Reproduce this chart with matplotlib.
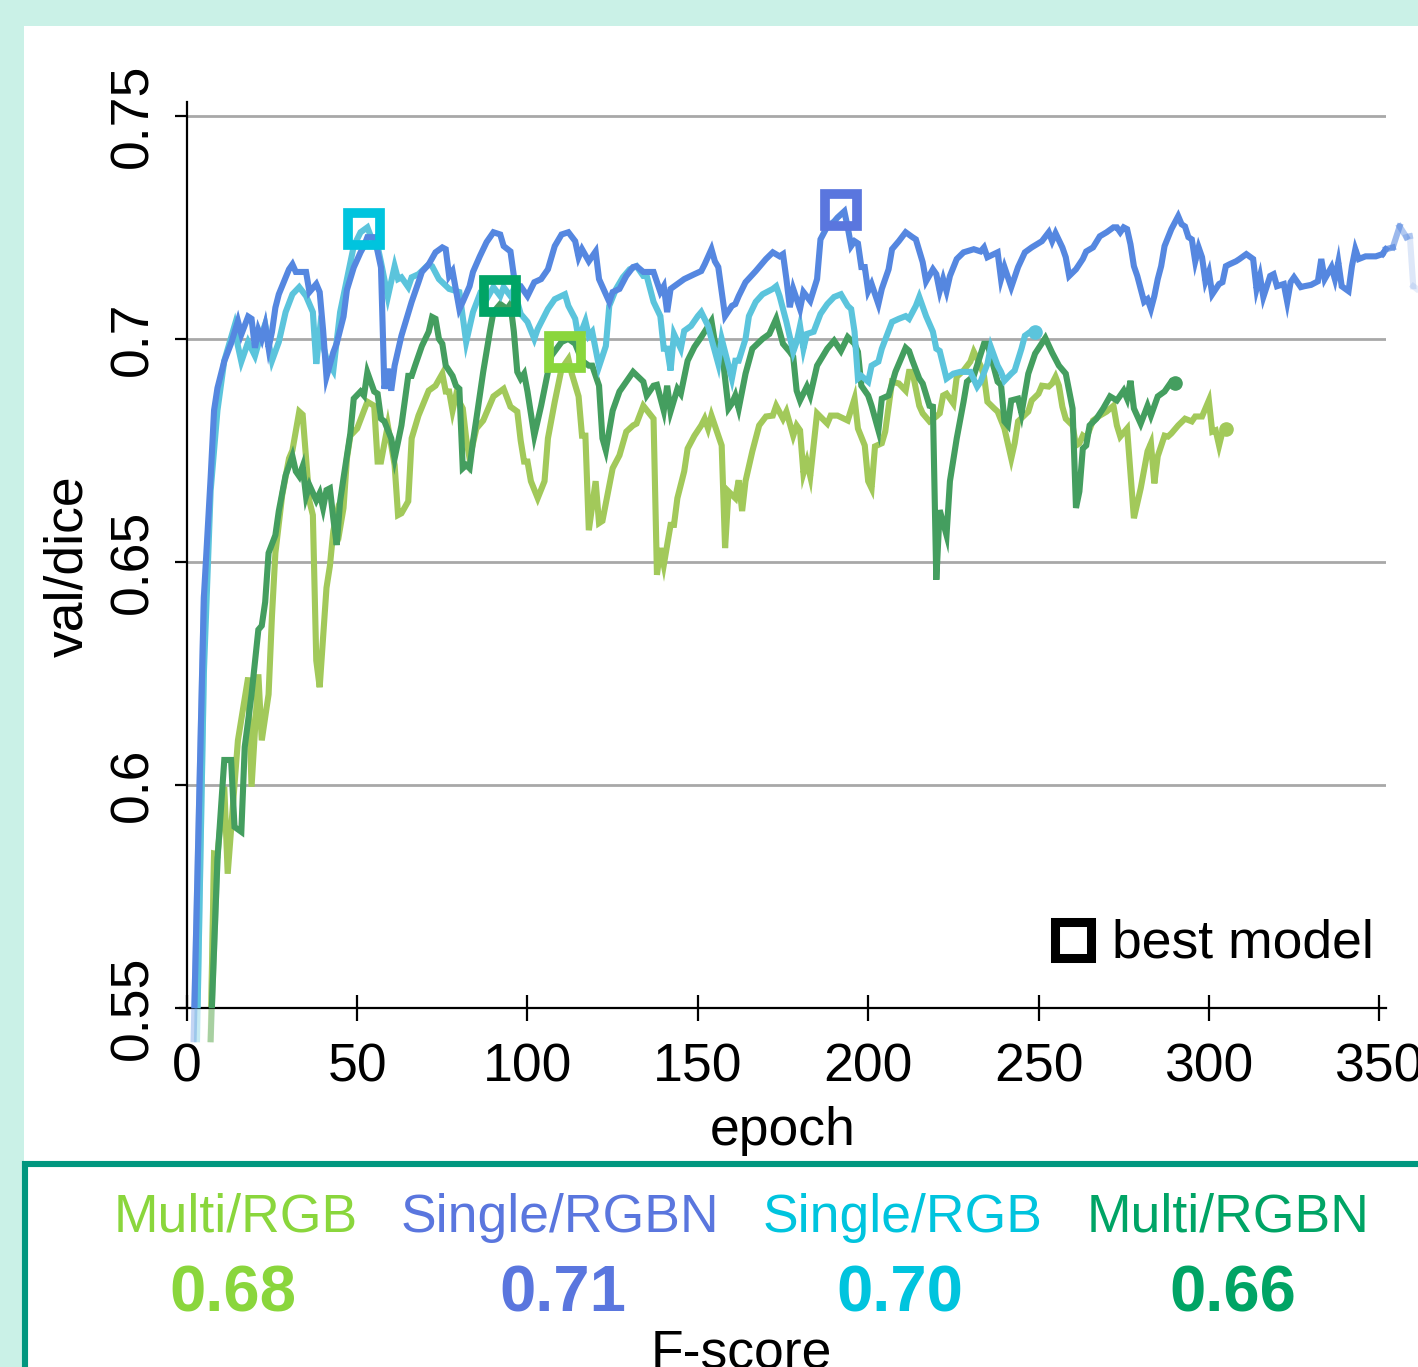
import matplotlib.pyplot as plt
from matplotlib.lines import Line2D
from matplotlib.patches import Rectangle

plt.rcParams['font.family'] = ['Liberation Sans', 'DejaVu Sans']

# ---- data: (epoch, val/dice) ----
single_rgbn = [(2,0.543),(5,0.642),(7,0.669),(8,0.684),(9,0.689),(11,0.695),(13,0.699),(15,0.704),(16,0.701),(18,0.705),(19,0.7045),(20,0.698),(21,0.702),(22,0.700),(23,0.703),(24,0.698),(25,0.7016),(26,0.707),(27,0.710),(30,0.7156),(31,0.7167),(32,0.715),(35,0.715),(36,0.7105),(38,0.7123),(39,0.7105),(40,0.702),(41,0.6915),(43,0.697),(44,0.699),(46,0.705),(47,0.711),(49,0.716),(51,0.7194),(52,0.7208),(53,0.7228),(55,0.7228),(56,0.7196),(57,0.716),(58,0.6888),(59,0.6933),(60,0.6884),(61,0.694),(63,0.7007),(66,0.7083),(68,0.7127),(69,0.715),(71,0.7167),(73,0.7194),(75,0.7205),(76,0.7201),(77,0.7141),(78,0.7152),(80,0.7067),(81,0.7083),(83,0.7118),(84,0.715),(86,0.7185),(88,0.7217),(90,0.7239),(92,0.7234),(93,0.7208),(95,0.7196),(96,0.7141),(97,0.7118),(98,0.7118),(100,0.7096),(102,0.7127),(104,0.7134),(106,0.7156),(108,0.7208),(110,0.7234),(112,0.7239),(114,0.7219),(115,0.7183),(116,0.7201),(118,0.7174),(120,0.7196),(121,0.7134),(124,0.7083),(125,0.7105),(127,0.7112),(129,0.7141),(131,0.7161),(132,0.7163),(134,0.715),(137,0.715),(139,0.7105),(140,0.7118),(141,0.706),(142,0.7112),(144,0.7123),(146,0.7134),(149,0.7145),(151,0.7152),(152,0.7167),(154,0.7201),(155,0.7174),(156,0.7161),(158,0.7051),(160,0.7074),(161,0.7078),(162,0.7096),(164,0.7127),(167,0.7152),(170,0.7179),(172,0.7194),(174,0.7185),(175,0.719),(176,0.7134),(177,0.7071),(178,0.7112),(180,0.7067),(181,0.7105),(183,0.7085),(185,0.7134),(186,0.7223),(188,0.7252),(190,0.7263),(191,0.7272),(193,0.7286),(194,0.725),(195,0.7208),(196,0.7219),(197,0.7214),(198,0.7161),(199,0.7161),(200,0.7107),(201,0.7123),(203,0.7078),(204,0.7112),(206,0.7156),(207,0.7201),(209,0.7219),(211,0.7239),(213,0.7228),(214,0.7223),(216,0.7172),(217,0.7129),(219,0.7156),(220,0.7145),(221,0.7107),(222,0.7134),(223,0.7107),(224,0.7141),(226,0.7179),(228,0.7194),(231,0.7201),(233,0.7196),(234,0.7205),(235,0.7183),(238,0.7194),(239,0.7134),(240,0.7161),(242,0.7116),(244,0.7161),(246,0.7194),(248,0.7205),(251,0.7219),(253,0.7239),(254,0.7219),(255,0.7237),(257,0.7205),(258,0.7183),(259,0.7141),(261,0.7156),(263,0.7179),(264,0.7196),(266,0.7205),(268,0.723),(270,0.7239),(272,0.725),(273,0.725),(274,0.7239),(275,0.725),(276,0.7246),(277,0.7212),(278,0.7163),(279,0.7141),(281,0.7083),(282,0.7089),(283,0.7067),(284,0.7096),(285,0.7134),(286,0.7163),(287,0.7208),(289,0.7246),(291,0.7275),(292,0.7257),(293,0.7252),(294,0.7228),(295,0.7223),(296,0.7174),(297,0.7205),(298,0.7183),(299,0.7129),(300,0.715),(301,0.71),(303,0.7123),(304,0.7127),(305,0.7163),(306,0.7167),(308,0.7174),(309,0.7179),(311,0.719),(313,0.7179),(314,0.7112),(315,0.7141),(316,0.7094),(318,0.7141),(319,0.7145),(320,0.7118),(322,0.7123),(323,0.7083),(324,0.7127),(325,0.7138),(327,0.7116),(328,0.7118),(330,0.7121),(332,0.7129),(333,0.7179),(334,0.7134),(336,0.7161),(337,0.7134),(338,0.7172),(339,0.7118),(341,0.7107),(342,0.7163),(343,0.7201),(344,0.7179),(346,0.7185),(349,0.7185),(351,0.719),(352,0.7201),(354,0.7205),(356,0.7252),(358,0.7228),(359,0.723),(360,0.7118),(361,0.7112)]

single_rgb = [(3,0.543),(5,0.625),(7,0.666),(9,0.684),(11,0.6951),(14,0.7029),(15,0.6984),(16,0.6949),(18,0.6993),(20,0.6962),(21,0.6989),(23,0.7033),(25,0.6951),(27,0.6993),(29,0.706),(31,0.710),(33,0.7116),(35,0.7096),(37,0.706),(38,0.6944),(39,0.7016),(41,0.6955),(43,0.6929),(45,0.706),(47,0.7134),(49,0.7208),(51,0.7239),(53,0.725),(54,0.723),(56,0.7208),(57,0.7172),(59,0.7094),(61,0.7163),(62,0.7134),(63,0.7138),(65,0.7116),(66,0.7138),(68,0.7145),(71,0.7167),(72,0.7163),(74,0.7134),(77,0.7112),(80,0.7105),(82,0.6993),(84,0.706),(86,0.710),(88,0.7089),(90,0.7116),(92,0.7096),(93,0.7116),(95,0.7096),(96,0.7112),(98,0.7056),(100,0.7038),(102,0.700),(103,0.7022),(106,0.7067),(108,0.7089),(111,0.710),(112,0.7074),(114,0.7045),(115,0.700),(117,0.704),(118,0.7007),(119,0.7016),(121,0.6938),(123,0.6984),(124,0.7074),(126,0.7112),(128,0.7138),(130,0.7156),(132,0.7163),(134,0.7141),(135,0.7141),(137,0.7083),(139,0.7051),(140,0.6978),(141,0.6978),(142,0.6929),(143,0.7011),(145,0.6978),(146,0.7018),(148,0.7029),(150,0.7051),(151,0.706),(153,0.7029),(154,0.700),(156,0.6944),(157,0.700),(160,0.6911),(161,0.6951),(162,0.6951),(164,0.700),(165,0.7051),(167,0.7083),(169,0.710),(172,0.7112),(173,0.7118),(174,0.7096),(176,0.7038),(178,0.6971),(179,0.6993),(180,0.7029),(181,0.6978),(182,0.7011),(184,0.7016),(186,0.7056),(188,0.7078),(190,0.7094),(192,0.710),(194,0.7074),(195,0.7067),(196,0.7016),(197,0.6911),(198,0.6917),(200,0.6904),(201,0.694),(203,0.6949),(204,0.6978),(206,0.7018),(207,0.7038),(209,0.7045),(211,0.7051),(212,0.7045),(214,0.7074),(215,0.7094),(217,0.7051),(219,0.7016),(220,0.6978),(221,0.6973),(223,0.6911),(225,0.6922),(227,0.6926),(230,0.6926),(232,0.6893),(233,0.6904),(235,0.6944),(236,0.6982),(238,0.694),(239,0.6926),(240,0.6906),(242,0.6922),(243,0.6929),(245,0.6978),(246,0.7007),(248,0.7018),(249,0.7016)]

multi_rgbn = [(7,0.543),(9,0.5833),(11,0.6056),(13,0.6056),(14,0.5906),(16,0.5895),(17,0.6085),(19,0.6203),(21,0.6348),(22,0.6357),(23,0.641),(24,0.652),(26,0.656),(27,0.6614),(29,0.6694),(31,0.6737),(32,0.6703),(33,0.6692),(34,0.6714),(35,0.6647),(36,0.6672),(38,0.6638),(39,0.6654),(40,0.6621),(41,0.6661),(42,0.6665),(43,0.6598),(44,0.6538),(45,0.6636),(46,0.6688),(48,0.6788),(49,0.6866),(51,0.6882),(52,0.6873),(53,0.6925),(55,0.6882),(56,0.6877),(57,0.6821),(58,0.6815),(60,0.6777),(61,0.6732),(63,0.6806),(65,0.6917),(66,0.6917),(67,0.694),(69,0.6984),(71,0.7016),(72,0.7049),(73,0.7045),(74,0.700),(75,0.6989),(76,0.694),(78,0.6917),(79,0.6895),(80,0.6888),(81,0.671),(82,0.6717),(83,0.671),(84,0.677),(85,0.6821),(87,0.6926),(89,0.7018),(90,0.706),(92,0.7078),(94,0.7067),(95,0.7078),(96,0.7016),(97,0.6926),(98,0.6911),(99,0.6922),(100,0.6882),(102,0.6783),(104,0.685),(106,0.6926),(107,0.6962),(110,0.6993),(112,0.700),(114,0.6989),(116,0.6951),(118,0.694),(119,0.694),(121,0.6895),(122,0.6777),(123,0.675),(125,0.6839),(127,0.6882),(131,0.6926),(134,0.6904),(135,0.6873),(137,0.6895),(138,0.6897),(140,0.6839),(141,0.6895),(142,0.6837),(144,0.6888),(145,0.6877),(147,0.6951),(149,0.6982),(151,0.7004),(154,0.704),(155,0.6993),(157,0.6978),(159,0.6844),(160,0.6855),(161,0.6873),(162,0.6844),(164,0.6922),(166,0.6978),(169,0.700),(171,0.7011),(173,0.7045),(175,0.6989),(177,0.6971),(178,0.696),(179,0.6884),(180,0.6862),(182,0.6893),(183,0.6873),(185,0.694),(188,0.6978),(190,0.6996),(192,0.6973),(194,0.7004),(196,0.6989),(197,0.6971),(198,0.6895),(200,0.6873),(201,0.685),(203,0.6795),(204,0.6866),(206,0.6873),(208,0.6926),(211,0.698),(212,0.6973),(213,0.6951),(215,0.6911),(216,0.69),(218,0.685),(219,0.6848),(220,0.646),(221,0.6616),(223,0.656),(224,0.6681),(226,0.6777),(228,0.6859),(229,0.6904),(231,0.6917),(234,0.6989),(235,0.6989),(237,0.6933),(238,0.6904),(239,0.6897),(240,0.6815),(241,0.6806),(242,0.6862),(244,0.6866),(245,0.6833),(247,0.6922),(249,0.6967),(252,0.7002),(254,0.6969),(256,0.694),(258,0.6922),(260,0.6844),(261,0.6621),(262,0.6658),(263,0.6754),(264,0.6761),(265,0.6806),(267,0.6821),(269,0.6844),(271,0.6871),(273,0.6862),(275,0.6884),(276,0.6866),(277,0.6906),(278,0.6844),(280,0.681),(282,0.685),(283,0.6828),(285,0.6871),(287,0.6882),(289,0.6904),(290,0.690)]

multi_rgb = [(7,0.543),(8,0.5846),(9,0.5844),(11,0.5996),(12,0.5801),(15,0.610),(18,0.6241),(19,0.5996),(21,0.6248),(22,0.610),(24,0.6203),(25,0.638),(26,0.652),(28,0.665),(30,0.6732),(31,0.675),(33,0.6837),(34,0.683),(36,0.6636),(37,0.6605),(38,0.6279),(39,0.6219),(41,0.6442),(42,0.6491),(43,0.6569),(44,0.6605),(45,0.6576),(46,0.6621),(47,0.6732),(48,0.6783),(50,0.6799),(53,0.6859),(55,0.685),(56,0.6725),(57,0.6725),(59,0.6806),(61,0.6717),(62,0.6605),(63,0.6609),(65,0.6636),(66,0.6777),(68,0.6828),(71,0.6884),(73,0.6895),(75,0.6922),(76,0.6882),(77,0.6882),(78,0.6839),(79,0.6873),(81,0.6844),(82,0.6777),(83,0.6732),(85,0.6799),(87,0.6817),(90,0.6871),(93,0.6888),(95,0.6848),(97,0.6837),(98,0.6772),(99,0.6725),(100,0.6725),(101,0.6681),(103,0.6643),(105,0.6681),(106,0.6777),(108,0.6859),(110,0.6933),(112,0.6955),(113,0.6922),(115,0.6871),(116,0.6783),(117,0.6783),(118,0.6571),(120,0.6681),(121,0.6587),(122,0.6592),(125,0.671),(127,0.6739),(129,0.6792),(131,0.6806),(132,0.681),(134,0.685),(137,0.6821),(138,0.6471),(139,0.6531),(140,0.6493),(142,0.6583),(143,0.6583),(144,0.6643),(146,0.6703),(147,0.6754),(149,0.6783),(151,0.6806),(152,0.6821),(153,0.6799),(154,0.6828),(157,0.6761),(158,0.6531),(159,0.6658),(161,0.6643),(162,0.6683),(163,0.6614),(164,0.6681),(166,0.6748),(168,0.6806),(170,0.6826),(172,0.6828),(173,0.685),(175,0.6821),(176,0.6837),(178,0.6783),(179,0.6806),(180,0.6795),(181,0.6699),(182,0.6725),(183,0.6692),(185,0.6833),(188,0.681),(189,0.6828),(191,0.6828),(194,0.6817),(196,0.6866),(197,0.6799),(199,0.6761),(200,0.6681),(201,0.6665),(202,0.6759),(204,0.6766),(205,0.6792),(207,0.6904),(209,0.69),(211,0.6884),(212,0.6926),(213,0.6926),(215,0.685),(216,0.6833),(218,0.6815),(220,0.6826),(221,0.6833),(222,0.6873),(223,0.6877),(225,0.6855),(226,0.6915),(228,0.6929),(230,0.6949),(231,0.6971),(233,0.694),(234,0.6917),(235,0.6859),(237,0.6844),(238,0.6837),(240,0.6799),(242,0.6732),(243,0.6766),(244,0.6815),(247,0.6837),(248,0.6862),(250,0.6877),(251,0.6895),(253,0.6893),(254,0.69),(255,0.6915),(256,0.6895),(257,0.6848),(258,0.6821),(260,0.6806),(261,0.6761),(262,0.6766),(263,0.6783),(264,0.6777),(266,0.6817),(268,0.6828),(270,0.6837),(272,0.685),(273,0.6806),(274,0.6781),(276,0.6799),(278,0.6598),(280,0.6665),(282,0.6748),(283,0.6766),(284,0.6676),(285,0.6737),(287,0.6783),(288,0.6781),(289,0.6788),(291,0.6806),(293,0.6821),(295,0.6815),(296,0.6826),(298,0.6826),(300,0.6862),(301,0.6792),(302,0.6795),(303,0.6761),(304,0.6792),(305,0.6799)]

# best model per run (epoch, val/dice)
best_epoch = [111, 192, 52, 92]
best_val = [0.697, 0.729, 0.7246, 0.7096]

names = ["Multi/RGB", "Single/RGBN", "Single/RGB", "Multi/RGBN"]
fscores = ["0.68", "0.71", "0.70", "0.66"]

x_ticks = [0, 50, 100, 150, 200, 250, 300, 350]
y_ticks = [0.55, 0.6, 0.65, 0.7, 0.75]
y_ticklabels = ["0.55", "0.6", "0.65", "0.7", "0.75"]

# ---- style ----
line_colors = ["#a2c95a", "#5587e0", "#5bc4dc", "#449e5f"]
key_colors = ["#8ad63c", "#5a76de", "#00c4de", "#00a465"]
MINT = "#caf1e7"
TEAL = "#00977f"
W, H = 1418, 1367
FS = 38.5
LW = 4.4

fig = plt.figure(figsize=(W / 100, H / 100), dpi=100, facecolor=MINT)
fig.add_artist(Rectangle((24 / W, (H - 1161) / H), 1, (1161 - 26) / H,
                         transform=fig.transFigure, facecolor="white",
                         edgecolor="none", zorder=-10))
fig.add_artist(Rectangle((25 / W, -0.1), 1.2, (H - 1164) / H + 0.1,
                         transform=fig.transFigure, facecolor="white",
                         edgecolor=TEAL, lw=4.4, zorder=-9))

ax = fig.add_axes([180 / W, (H - 1008) / H, (1386 - 180) / W, (1008 - 102) / H])
ax.patch.set_alpha(0)
ax.set_xlim(-2, 352)
ax.set_ylim(0.55, 0.7531)

for s in ["top", "right"]:
    ax.spines[s].set_visible(False)
ax.spines["left"].set_position(("data", 0))
for s in ["left", "bottom"]:
    ax.spines[s].set_linewidth(1.6)

ax.hlines(y_ticks[1:], 0, 352.5, colors="#a8a8a8", lw=2.0, zorder=1)

series = [multi_rgb, single_rgbn, single_rgb, multi_rgbn]
zorders = [2, 5, 4, 3]
for data, c, z in zip(series, line_colors, zorders):
    ep, val = zip(*data)
    ax.plot(ep, val, color=c, lw=LW, zorder=z, solid_joinstyle="miter")
    # faded tail below the axis at the start
    ax.plot(ep[:2], val[:2], color=c, lw=LW, alpha=0.35, zorder=z, clip_on=False)

# end dots for the runs that stopped early
for data, c, z in zip([multi_rgb, single_rgb, multi_rgbn],
                      [line_colors[0], line_colors[2], line_colors[3]], [2, 4, 3]):
    ax.plot(data[-1][0], data[-1][1], "o", ms=9.5, color=c, zorder=z)

# Single/RGBN keeps going past the axis, fading out
ep, val = zip(*single_rgbn)
tail = [i for i, e in enumerate(ep) if e >= 351]
for k, i in enumerate(tail[:-1]):
    ax.plot(ep[i:i + 2], val[i:i + 2], color=line_colors[1], lw=LW,
            alpha=max(0.85 - 0.13 * k, 0.15), zorder=5, clip_on=False)

for e, v, c in zip(best_epoch, best_val, key_colors):
    ax.plot(e, v, "s", ms=23.5, mfc="none", mec=c, mew=7, zorder=6)

ax.set_xticks(x_ticks)
ax.set_yticks(y_ticks)
ax.set_yticklabels(y_ticklabels, rotation=90, va="center")
ax.tick_params(axis="x", direction="inout", length=19, width=1.6, pad=15, labelsize=FS)
ax.tick_params(axis="y", direction="out", length=8.6, width=1.6, pad=12, labelsize=FS)
ax.set_xlabel("epoch", fontsize=FS, labelpad=10)
ax.set_ylabel("val/dice", fontsize=FS, labelpad=11)
ax.yaxis.label.set_y(0.488)

# best model key
fig.add_artist(Line2D([1073 / W], [(H - 940) / H], transform=fig.transFigure,
                      marker="s", ms=26, mfc="none", mec="black", mew=6.5))
fig.text(1112 / W, (H - 957) / H, "best model", fontsize=FS, va="baseline")

# F-score panel
name_x = [236, 560, 903, 1228]
score_x = [233, 563, 900, 1233]
for n, f, c, nx, sx in zip(names, fscores, key_colors, name_x, score_x):
    fig.text(nx / W, (H - 1232) / H, n, color=c, fontsize=FS, ha="center", va="baseline")
    fig.text(sx / W, (H - 1312) / H, f, color=c, fontsize=47, fontweight="bold",
             ha="center", va="baseline")
fig.text(741 / W, (H - 1368) / H, "F-score", fontsize=FS, ha="center", va="baseline")

fig.savefig("out.png", dpi=100, facecolor=MINT)
